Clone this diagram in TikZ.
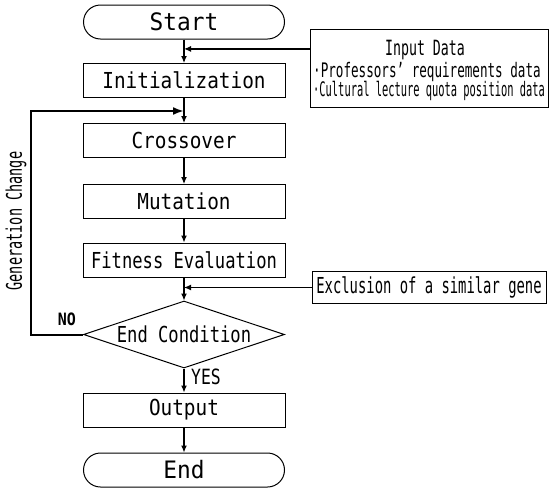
\documentclass[tikz,border=0pt]{standalone}
\usepackage{fontspec}
\usetikzlibrary{calc}
\usetikzlibrary{shapes.geometric,shapes.misc}
\usetikzlibrary{arrows.meta}

\newfontfamily\termfont{DejaVu Sans Mono}[FakeStretch=0.95]
\newfontfamily\boxfont{DejaVu Sans Mono}[FakeStretch=0.88]
\newfontfamily\tightfont{DejaVu Sans Mono}[FakeStretch=0.78]
\newfontfamily\narrowfont{DejaVu Sans Mono}[FakeStretch=0.63]
\newfontfamily\compactfont{DejaVu Sans Mono}[FakeStretch=0.52]

\tikzset{
    terminal/.style={rounded rectangle, draw, line width=1pt, minimum width=201pt, minimum height=34pt, inner sep=0pt, font=\termfont\fontsize{24}{26}\selectfont},
    process/.style={rectangle, draw, line width=1pt, minimum width=202pt, minimum height=34pt, inner sep=0pt, font=\boxfont\fontsize{22}{24}\selectfont},
    decision/.style={diamond, draw, line width=1pt, aspect=3, minimum width=201pt, minimum height=67pt, inner sep=0pt, font=\tightfont\fontsize{22}{24}\selectfont},
    flow/.style={-{Latex[length=7pt,width=6pt]}, line width=1.2pt},
    feedback/.style={-{Latex[length=11pt,width=8pt]}, line width=2pt, line join=miter},
}

\begin{document}
\begin{tikzpicture}[x=1pt, y=-1pt]

    \useasboundingbox (0,0) rectangle (549,488);

    \begin{scope}
        \node[terminal] (start) at (184,22) {Start};
        \node[process] (init) at (184,80.5) {Initialization};
        \node[process] (cross) at (184,140.5) {Crossover};
        \node[process] (mut) at (184,201.5) {Mutation};
        \node[process, font=\tightfont\fontsize{22}{24}\selectfont] (fit) at (184,260) {Fitness Evaluation};
        \node[decision] (cond) at (184,334.5) {End Condition};
        \node[process] (out) at (184,410) {Output};
        \node[terminal] (end) at (184,470) {End};

        \draw [flow] (start) -- (init);
        \draw [flow] (init) -- (cross);
        \draw [flow] (cross) -- (mut);
        \draw [flow] (mut) -- (fit);
        \draw [flow] (fit) -- (cond);
        \draw [flow] (cond) -- (out);
        \draw [flow] (out) -- (end);

        \node [anchor=west, inner sep=0pt, font=\tightfont\fontsize{21}{23}\selectfont] (yes) at (191,377) {YES};
    \end{scope}

    % input data box
    \begin{scope}
        \node[draw, line width=1pt, minimum width=238pt, minimum height=78pt] (inp) at (429,68) {};
        \node [font=\narrowfont\fontsize{21}{23}\selectfont] (inpTitle) at (425,50) {Input Data};
        \node [anchor=west, inner sep=0pt, font=\narrowfont\fontsize{20}{22}\selectfont] (inpReq) at (313,72) {·Professors’ requirements data};
        \node [anchor=west, inner sep=0pt, font=\compactfont\fontsize{20}{22}\selectfont] (inpQuota) at (313,91) {·Cultural lecture quota position data};

        \coordinate (inJoin) at ($(start.south)!0.4!(init.north)$);
        \draw [flow] (inp.west |- inJoin) -- (inJoin);
    \end{scope}

    % similar gene exclusion
    \begin{scope}
        \node[draw, line width=1pt, minimum width=234pt, minimum height=32pt, inner sep=0pt, font=\narrowfont\fontsize{22}{24}\selectfont] (excl) at (429,287.5) {Exclusion of a similar gene};

        \draw [flow] (excl.west) -- (excl.west -| fit.south);
    \end{scope}

    % generation loop
    \begin{scope}
        \coordinate (loopJoin) at ($(init.south)!0.52!(cross.north)$);
        \coordinate (loopX) at (31,0);

        \draw [feedback] (cond.west) -- (cond.west -| loopX) -- (loopX |- loopJoin) -- (loopJoin);

        \node [font=\boxfont\bfseries\fontsize{17}{19}\selectfont] (no) at (67,319) {NO};
        \node [rotate=90, font=\narrowfont\fontsize{21.5}{23}\selectfont] (gen) at (16,221) {Generation Change};
    \end{scope}
\end{tikzpicture}
\end{document}
